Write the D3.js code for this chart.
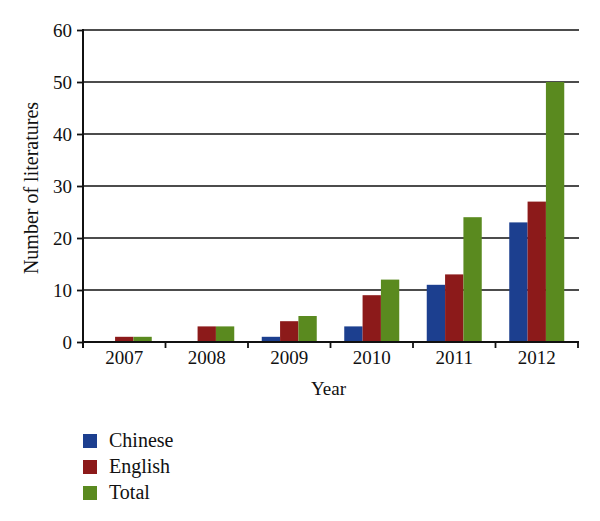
<!DOCTYPE html>
<html>
<head>
<meta charset="utf-8">
<script src="https://cdn.jsdelivr.net/npm/d3@7"></script>
<style>
body { margin: 0; background: #fff; }
text { font-family: "Liberation Serif", "DejaVu Serif", serif; fill: #111; }
</style>
</head>
<body>
<script>
var width = 600,
    height = 521;
var margin = {top: 30, left: 83, right: 22, bottom: 179};

var years = ["2007", "2008", "2009", "2010", "2011", "2012"];
var series = ["Chinese", "English", "Total"];
var chinese = [0, 0, 1, 3, 11, 23];
var english = [1, 3, 4, 9, 13, 27];
var total = [1, 3, 5, 12, 24, 50];
var yTicks = [0, 10, 20, 30, 40, 50, 60];
var colors = ["#1c3f8f", "#8c1a1a", "#5a8a1f"];

var values = [chinese, english, total];

var svg = d3.select("body").append("svg")
    .attr("width", width)
    .attr("height", height);

var x0 = d3.scaleBand()
    .domain(years)
    .range([margin.left, width - margin.right])
    .paddingInner(0)
    .paddingOuter(0);

var x1 = d3.scaleBand()
    .domain(series)
    .range([0, x0.bandwidth()])
    .paddingOuter(0.75)
    .paddingInner(0);

var y = d3.scaleLinear()
    .domain([0, 60])
    .range([height - margin.bottom, margin.top]);

// gridlines
svg.append("g")
    .selectAll("line")
    .data(yTicks.slice(1))
    .enter().append("line")
    .attr("x1", margin.left)
    .attr("x2", width - margin.right + 1)
    .attr("y1", function (d) { return y(d); })
    .attr("y2", function (d) { return y(d); })
    .attr("stroke", "#111")
    .attr("stroke-width", 1.6);

// bars
years.forEach(function (yr, i) {
    var g = svg.append("g")
        .attr("transform", "translate(" + x0(yr) + ",0)");
    series.forEach(function (s, j) {
        var v = values[j][i];
        if (v <= 0) return;
        g.append("rect")
            .attr("x", x1(s))
            .attr("width", x1.bandwidth())
            .attr("y", y(v))
            .attr("height", y(0) - y(v))
            .attr("fill", colors[j]);
    });
});

// y axis
var yAxis = d3.axisLeft(y)
    .tickValues(yTicks)
    .tickSize(6)
    .tickPadding(5)
    .tickFormat(d3.format("d"));
var gy = svg.append("g")
    .attr("transform", "translate(" + margin.left + ",0)")
    .call(yAxis);
gy.select(".domain").remove();
gy.append("line")
    .attr("x1", 0).attr("x2", 0)
    .attr("y1", margin.top - 1)
    .attr("y2", y(0) + 6)
    .attr("stroke", "#111")
    .attr("stroke-width", 2);
gy.selectAll(".tick line").attr("stroke", "#111").attr("stroke-width", 1.8);
gy.selectAll(".tick text")
    .style("font-size", "19px")
    .attr("fill", "#111");

// x axis
var gx = svg.append("g")
    .attr("transform", "translate(0," + y(0) + ")");
gx.append("line")
    .attr("x1", margin.left)
    .attr("x2", width - margin.right + 1)
    .attr("stroke", "#111")
    .attr("stroke-width", 2.2);
var bounds = years.map(function (d) { return x0(d); }).concat([x0.range()[1]]);
gx.selectAll("line.tk")
    .data(bounds)
    .enter().append("line")
    .attr("class", "tk")
    .attr("x1", function (d) { return d; })
    .attr("x2", function (d) { return d; })
    .attr("y1", 0)
    .attr("y2", 6)
    .attr("stroke", "#111")
    .attr("stroke-width", 1.8);
gx.selectAll("text")
    .data(years)
    .enter().append("text")
    .attr("x", function (d) { return x0(d) + x0.bandwidth() / 2; })
    .attr("y", 22)
    .attr("text-anchor", "middle")
    .style("font-size", "19px")
    .text(function (d) { return d; });

// axis titles
svg.append("text")
    .attr("x", (margin.left + width - margin.right) / 2 - 2)
    .attr("y", 395)
    .attr("text-anchor", "middle")
    .style("font-size", "19px")
    .text("Year");

svg.append("text")
    .attr("transform", "translate(38,188) rotate(-90)")
    .attr("text-anchor", "middle")
    .style("font-size", "20px")
    .text("Number of literatures");

// legend
var legend = svg.append("g")
    .attr("transform", "translate(83,434)");
series.forEach(function (s, i) {
    legend.append("rect")
        .attr("x", 0)
        .attr("y", i * 26)
        .attr("width", 14)
        .attr("height", 14)
        .attr("fill", colors[i]);
    legend.append("text")
        .attr("x", 26)
        .attr("y", i * 26 + 13)
        .style("font-size", "20px")
        .text(s);
});
</script>
</body>
</html>
